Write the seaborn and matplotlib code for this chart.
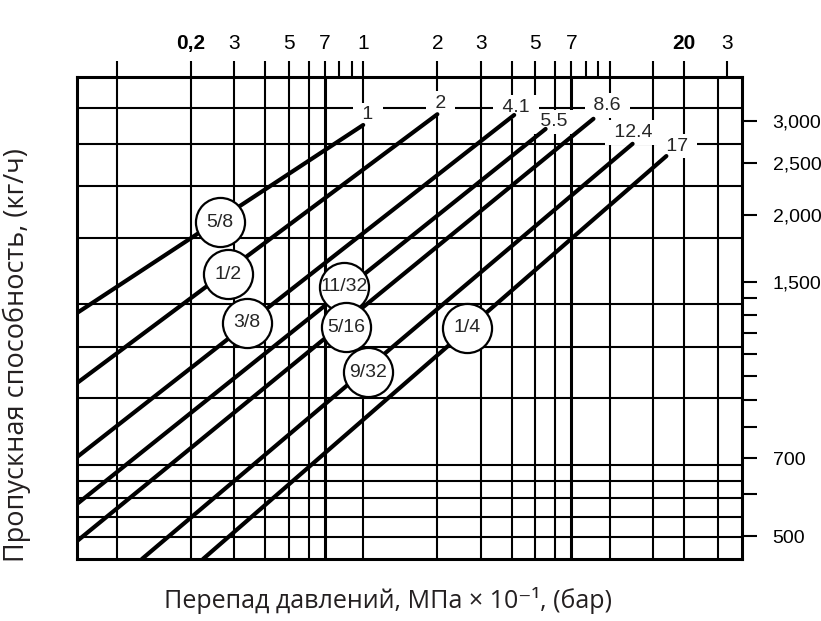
import numpy as np
import pandas as pd
import seaborn as sns
import matplotlib.pyplot as plt
from matplotlib import font_manager

# данные (перепад в бар, расход в кг/ч)
line_labels = ["1", "2", "4.1", "5.5", "8.6", "12.4", "17"]
orifice = ["5/8", "1/2", "3/8", "11/32", "5/16", "9/32", "1/4"]
dp_start = [0.06895, 0.06895, 0.06895, 0.06895, 0.06895, 0.1265, 0.224]
flow_start = [1311, 969, 704, 575, 490, 453.6, 453.6]
dp_end = [1, 2, 4.1, 5.5, 8.6, 12.4, 17]
flow_end = [2950, 3090, 3080, 2900, 3030, 2720, 2580]
circle_dp = [0.262, 0.283, 0.338, 0.836, 0.852, 1.046, 2.64]
circle_flow = [1941, 1551, 1256, 1467, 1234, 1016, 1229]

# оси
x_grid = [0.1, 0.2, 0.3, 0.4, 0.5, 0.6, 0.7, 1, 2, 3, 4, 5, 6, 7, 10, 15, 20, 27.6]
x_grid_bold = [0.7, 7]
y_grid = [499.0, 544.3, 589.7, 635.0, 680.4, 907.2, 1134.0, 1360.8,
          1814.4, 2268.0, 2721.6, 3175.1]
top_ticks = [0.1, 0.2, 0.3, 0.4, 0.5, 0.6, 0.7, 0.8, 0.9, 1, 2, 3, 4, 5, 6, 7,
             8, 9, 10, 15, 20, 30]
top_labels = ["", "0,2", "3", "", "5", "", "7", "", "", "1", "2", "3", "", "5",
              "", "7", "", "", "", "", "20", "3"]
right_ticks = [500, 600, 700, 800, 900, 1000, 1100, 1200, 1300, 1400, 1500,
               2000, 2500, 3000]
right_labels = ["500", "", "700", "", "", "", "", "", "", "", "1,500", "2,000",
                "2,500", "3,000"]

# смещения подписей концов линий (пиксели)
end_dx = [5, 3, 2, 8, 14, 1, 11]
end_dy = [10, 11, 8, 7, 13, 11, 10]

df = pd.DataFrame({
    "dp": dp_start + dp_end,
    "flow": flow_start + flow_end,
    "line": line_labels + line_labels,
})

sns.set_style("white")
names = {f.name for f in font_manager.fontManager.ttflist}
narrow = "Liberation Sans Narrow" if "Liberation Sans Narrow" in names else "Liberation Sans"
plt.rcParams["font.family"] = [narrow, "DejaVu Sans"]

fig = plt.figure(figsize=(8.21, 6.21), dpi=100)
ax = fig.add_axes([77 / 821, 62 / 621, 665 / 821, 482 / 621])

for xv in x_grid:
    ax.axvline(xv, color="black", lw=2.2 if xv in x_grid_bold else 1.5, zorder=1)
for yv in y_grid:
    ax.axhline(yv, color="black", lw=1.5, zorder=1)

sns.lineplot(data=df, x="dp", y="flow", units="line", estimator=None,
             color="black", lw=3.0, zorder=3, ax=ax, legend=False)

for i, lab in enumerate(line_labels):
    ax.annotate(" " + lab + " ", xy=(dp_end[i], flow_end[i]),
                xytext=(end_dx[i], end_dy[i]), textcoords="offset pixels",
                ha="center", va="center", fontsize=14, zorder=2,
                bbox=dict(boxstyle="square,pad=0.2", fc="white", ec="none"))

sns.scatterplot(x=circle_dp, y=circle_flow, s=1250, color="white",
                edgecolor="black", linewidth=1.6, zorder=4, ax=ax, legend=False)
for i, lab in enumerate(orifice):
    ax.text(circle_dp[i], circle_flow[i], lab, ha="center", va="center",
            fontsize=14, zorder=5)

ax.set_xscale("log")
ax.set_yscale("log")
ax.set_xlim(0.06895, 34.47)
ax.set_ylim(453.6, 3628.7)
ax.minorticks_off()

ax.xaxis.tick_top()
ax.set_xticks(top_ticks, top_labels)
ax.yaxis.tick_right()
ax.set_yticks(right_ticks, right_labels)
ax.minorticks_off()
ax.tick_params(axis="x", direction="out", length=11.5, width=1.5, pad=6,
               labelsize=15, colors="black")
ax.tick_params(axis="y", direction="out", length=11, width=1.5, pad=11,
               labelsize=14, colors="black")
for lbl in ax.get_xticklabels():
    if lbl.get_text() in ("0,2", "20"):
        lbl.set_fontweight("bold")
ax.set_xlabel("")
ax.set_ylabel("")

for sp in ax.spines.values():
    sp.set_visible(True)
    sp.set_color("black")
    sp.set_linewidth(2.2)
    sp.set_zorder(6)

fig.text(388 / 821, 1 - 600 / 621, "Перепад давлений, МПа × 10⁻¹, (бар)",
         ha="center", va="center", fontsize=18,
         family=["Open Sans", "DejaVu Sans"], color="#231f20")
fig.text(17 / 821, 1 - 355 / 621, "Пропускная способность, (кг/ч)",
         ha="center", va="center", rotation=90, fontsize=19.5,
         family=["Open Sans", "DejaVu Sans"], color="#231f20")

fig.savefig("out.png", dpi=100)
